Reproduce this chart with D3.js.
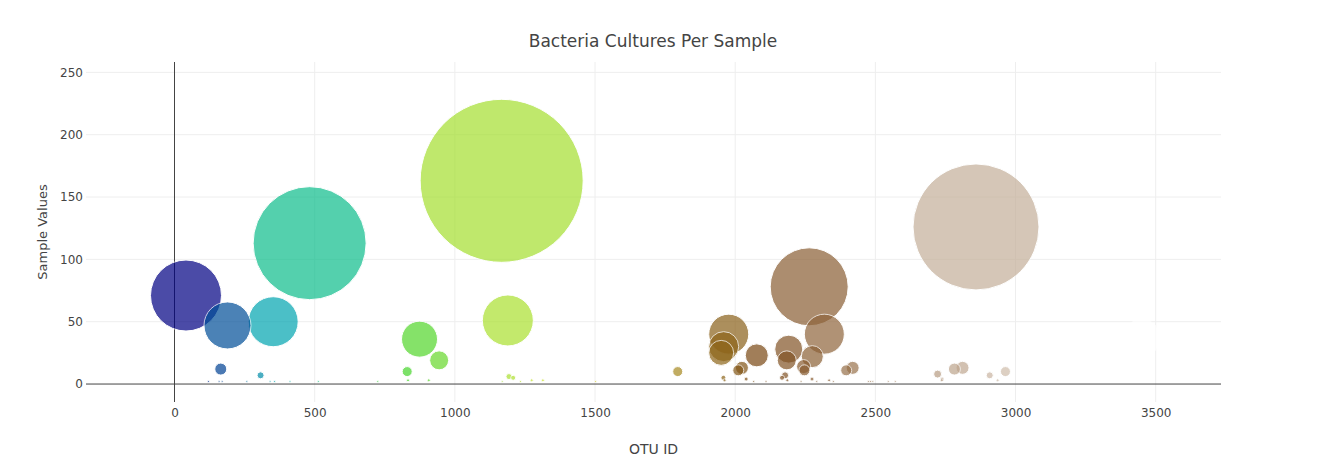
<!DOCTYPE html>
<html>
<head>
<meta charset="utf-8">
<script src="https://cdn.jsdelivr.net/npm/d3@7"></script>
<style>
    body { margin: 0; background: #fff; }
    svg text { font-family: "DejaVu Sans", Verdana, sans-serif; fill: #444; }
</style>
</head>
<body>
<svg id="bubble" width="1339" height="468"></svg>
<script>
// DATA: sample 940, OTU ids and their sample values
const otuIds = [1167, 2859, 482, 2264, 41, 1189, 352, 189, 2318, 1977, 3450, 874, 1959, 2191, 1950,
    2077, 2275, 944, 2184, 2244, 2024, 2419, 2811, 165, 2782, 2247, 2011, 2396, 830, 2964, 1795,
    2722, 307, 2178, 2908, 1193, 2167, 1208, 1958, 2039, 2274, 2738, 2737, 1314, 1962, 2186, 2335,
    2936, 907, 833, 1274, 2483, 2475, 2491, 2291, 159, 2571, 2350, 2546, 725, 170, 1502, 513, 258,
    1169, 1234, 412, 2235, 2066, 2110, 121, 341, 357]
const sampleValues = [163, 126, 113, 78, 71, 51, 50, 47, 40, 40, 37, 36, 30, 28, 25,
    23, 22, 19, 19, 14, 13, 13, 13, 12, 12, 11, 11, 11, 10, 10, 10,
    8, 7, 7, 7, 6, 5, 5, 5, 4, 4, 4, 3, 3, 3, 3, 3,
    3, 3, 3, 3, 2, 2, 2, 2, 2, 2, 2, 2, 2, 2, 2, 2, 2,
    2, 2, 2, 2, 2, 2, 2, 2, 2]
const xTicks = [0, 500, 1000, 1500, 2000, 2500, 3000, 3500]
const yTicks = [0, 50, 100, 150, 200, 250]

// Plotly "Earth" colour scale
const earthStops = [0, 0.1, 0.2, 0.4, 0.6, 1]
const earthColors = ['rgb(0,0,130)', 'rgb(0,180,180)', 'rgb(40,210,40)', 'rgb(230,230,50)', 'rgb(120,70,20)', 'rgb(255,255,255)']

// LAYOUT
const plot = { left: 86, right: 1221, top: 62, bottom: 402 }
const svg = d3.select('#bubble')

const x = d3.scaleLinear().domain([-315.7, 3732.9]).range([plot.left, plot.right])
const y = d3.scaleLinear().domain([-14.4, 258.3]).range([plot.bottom, plot.top])

const [cMin, cMax] = d3.extent(otuIds)
const norm = d3.scaleLinear().domain([cMin, cMax]).range([0, 1])
const earth = d3.scaleLinear().domain(earthStops).range(earthColors).interpolate(d3.interpolateRgb)

// 1. Gridlines
svg.append('g').selectAll('line').data(xTicks.filter(d => d !== 0)).join('line')
    .attr('x1', d => x(d)).attr('x2', d => x(d))
    .attr('y1', plot.top).attr('y2', plot.bottom)
    .attr('stroke', '#eee').attr('stroke-width', 1)
svg.append('g').selectAll('line').data(yTicks.filter(d => d !== 0)).join('line')
    .attr('x1', plot.left).attr('x2', plot.right)
    .attr('y1', d => y(d)).attr('y2', d => y(d))
    .attr('stroke', '#eee').attr('stroke-width', 1)

// 2. Zero lines
svg.append('line')
    .attr('x1', x(0)).attr('x2', x(0)).attr('y1', plot.top).attr('y2', plot.bottom)
    .attr('stroke', '#444').attr('stroke-width', 1)
svg.append('line')
    .attr('x1', plot.left).attr('x2', plot.right).attr('y1', y(0)).attr('y2', y(0))
    .attr('stroke', '#444').attr('stroke-width', 1)

// 3. Bubbles (drawn in data order, like plotly)
const points = otuIds.map((id, i) => ({ id, value: sampleValues[i] }))
svg.append('g')
    .selectAll('circle').data(points).join('circle')
    .attr('cx', d => x(d.id))
    .attr('cy', d => y(d.value))
    .attr('r', d => d.value / 2)
    .attr('fill', d => earth(norm(d.id)))
    .attr('stroke', '#fff').attr('stroke-width', 1)
    .attr('opacity', 0.7)

// 4. Axes (no tick marks, labels only)
const xAxis = d3.axisBottom(x).tickValues(xTicks).tickFormat(d3.format('d')).tickSize(0).tickPadding(6)
const gx = svg.append('g').attr('transform', `translate(0,${plot.bottom})`).call(xAxis)
gx.select('.domain').remove()
gx.selectAll('text').style('font-size', '12px').attr('fill', '#444')

const yAxis = d3.axisLeft(y).tickValues(yTicks).tickFormat(d3.format('d')).tickSize(0).tickPadding(3)
const gy = svg.append('g').attr('transform', `translate(${plot.left},0)`).call(yAxis)
gy.select('.domain').remove()
gy.selectAll('text').style('font-size', '12px').attr('fill', '#444')

// 5. Titles
svg.append('text')
    .attr('x', 653).attr('y', 47)
    .attr('text-anchor', 'middle')
    .style('font-size', '17px')
    .text('Bacteria Cultures Per Sample')

svg.append('text')
    .attr('x', (plot.left + plot.right) / 2).attr('y', 454)
    .attr('text-anchor', 'middle')
    .style('font-size', '14px')
    .text('OTU ID')

svg.append('text')
    .attr('transform', `translate(47,${(plot.top + plot.bottom) / 2}) rotate(-90)`)
    .attr('text-anchor', 'middle')
    .style('font-size', '13px')
    .text('Sample Values')
</script>
</body>
</html>
